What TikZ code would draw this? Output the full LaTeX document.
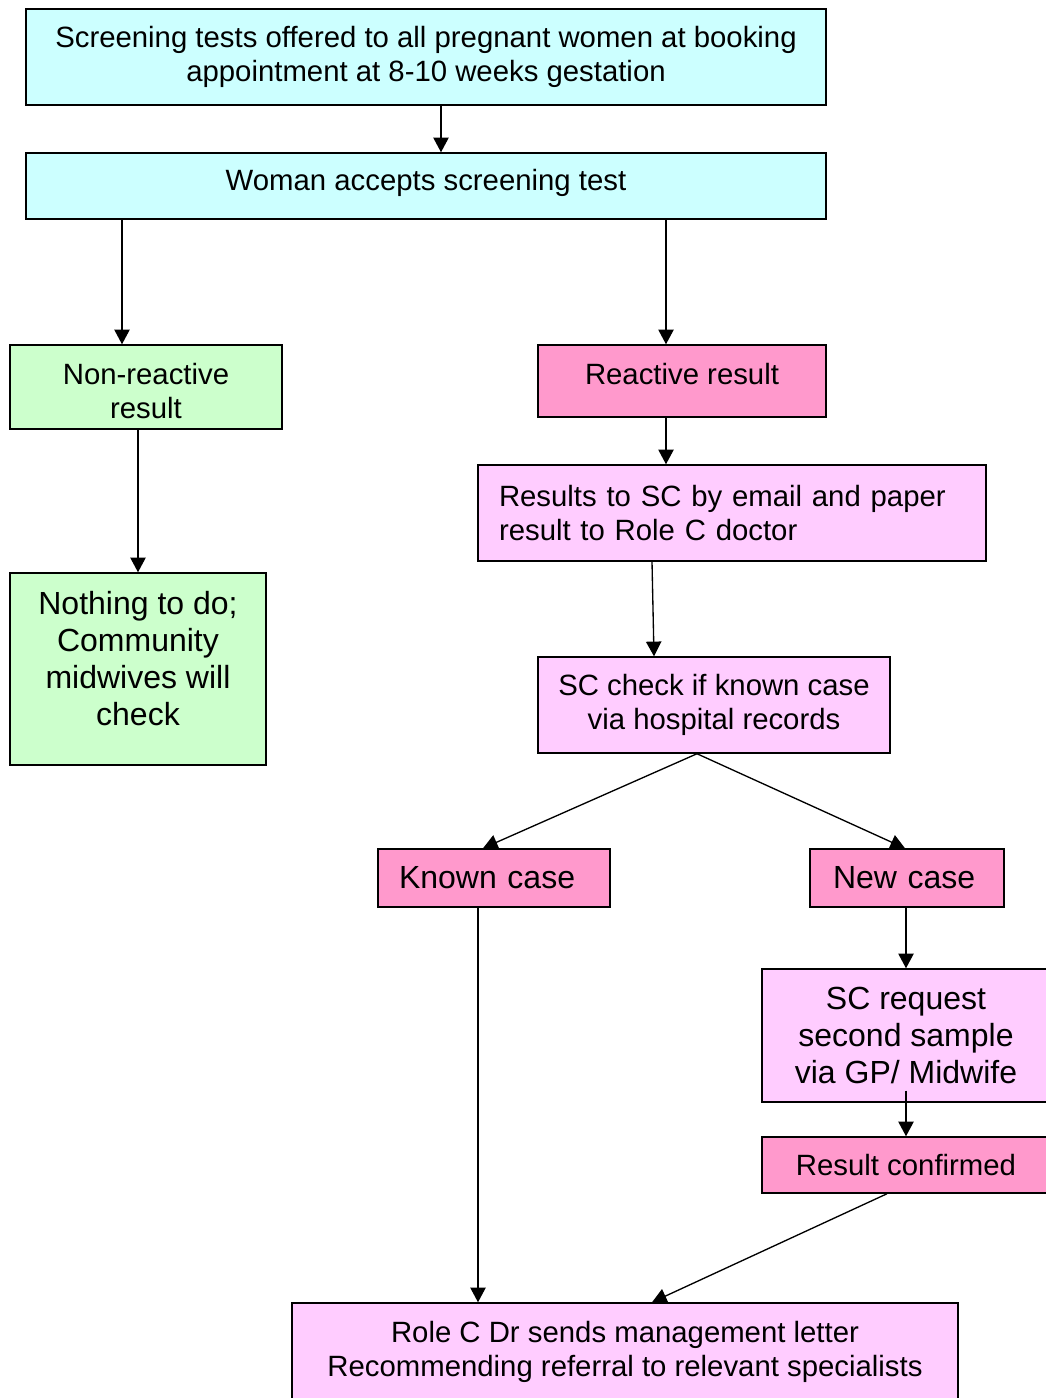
\documentclass[tikz,border=0pt]{standalone}
\usepackage{fontspec}
\setmainfont{Liberation Sans}
\usetikzlibrary{arrows.meta}
\definecolor{screencyan}{HTML}{CCFFFF}
\definecolor{cleargreen}{HTML}{CCFFCC}
\definecolor{flagpink}{HTML}{FF99CC}
\definecolor{notepink}{HTML}{FFCCFF}
\begin{document}
\begin{tikzpicture}[x=0.75pt,y=-0.75pt,line width=1pt,
        >={Triangle[length=11pt,width=11.5pt]},
        box/.style={shape=rectangle,draw=black,line width=1.1pt,inner sep=0pt,align=center,
            font=\fontsize{22}{25.5}\selectfont},
        bigbox/.style={box,font=\fontsize{24}{27.75}\selectfont}]
        \useasboundingbox (0,0) rectangle (1045,1398);

        \node[box,fill=screencyan,minimum width=600pt,minimum height=72pt] (offer) at (426,57)
            {Screening tests offered to all pregnant women at booking\\appointment at 8-10 weeks gestation};
        \node[box,fill=screencyan,minimum width=600pt,minimum height=49.5pt,text height=16pt,text depth=8.5pt] (accept) at (426,186)
            {Woman accepts screening test};
        \node[box,fill=cleargreen,minimum width=204pt,minimum height=63pt,text height=47pt,text depth=0pt] (nonreact) at (146,387)
            {Non-reactive\\result};
        \node[box,fill=flagpink,minimum width=216pt,minimum height=54pt,text height=16pt,text depth=11pt] (react) at (682,381)
            {Reactive result};
        \node[box,fill=notepink,minimum height=72pt,text width=349.5pt,inner xsep=15.75pt,align=left] (emailsc) at (732,513)
            {Results to SC by email and paper\\result to Role C doctor};
        \node[bigbox,fill=cleargreen,minimum width=192pt,minimum height=144pt,text depth=15.5pt] (nothing) at (138,669)
            {Nothing to do;\\Community\\midwives will\\check};
        \node[box,fill=notepink,minimum width=264pt,minimum height=72pt] (check) at (714,705)
            {SC check if known case\\via hospital records};
        \node[bigbox,fill=flagpink,minimum height=43.5pt,text width=142.5pt,inner xsep=15.75pt,align=left] (known) at (494,878)
            {Known case};
        \node[bigbox,fill=flagpink,minimum height=43.5pt,text width=111pt,inner xsep=17.25pt,align=left] (newcase) at (907,878)
            {New case};
        \node[bigbox,fill=notepink,minimum width=216pt,minimum height=99.75pt] (request) at (906,1035.5)
            {SC request\\second sample\\via GP/ Midwife};
        \node[box,fill=flagpink,minimum width=216pt,minimum height=42pt] (confirmed) at (906,1165)
            {Result confirmed};
        \node[box,fill=notepink,minimum width=499.5pt,minimum height=73.5pt] (letter) at (625,1352)
            {Role C Dr sends management letter\\Recommending referral to relevant specialists};

        \path [->] ([xshift=11.25pt]offer.south) edge ([xshift=11.25pt]accept.north);
        \path [->] ([xshift=-228pt]accept.south) edge ([xshift=-18pt]nonreact.north);
        \path [->] ([xshift=180pt]accept.south) edge ([xshift=-12pt]react.north);
        \path [->] ([xshift=-6pt]nonreact.south) edge (nothing.north);
        \path [->] ([xshift=-12pt]react.south) edge ([xshift=-49.5pt]emailsc.north);
        \path [->] ([xshift=-60pt]emailsc.south) edge ([xshift=-45pt]check.north);
        \path [->] ([xshift=-12.75pt]check.south) edge ([xshift=-8.25pt]known.north);
        \path [->] ([xshift=-12.75pt]check.south) edge ([xshift=-1.5pt]newcase.north);
        \path [->] ([xshift=-12pt]known.south) edge ([xshift=-110.25pt]letter.north);
        \path [->] ([xshift=-0.75pt]newcase.south) edge (request.north);
        \path [->] ([yshift=9pt]request.south) edge (confirmed.north);
        \path [->] ([xshift=-14.25pt]confirmed.south) edge ([xshift=20.25pt]letter.north);
    \end{tikzpicture}
\end{document}
